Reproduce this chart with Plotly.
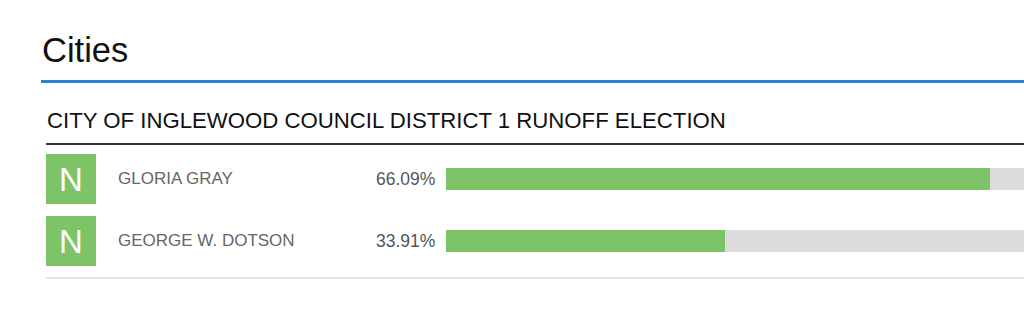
import plotly.graph_objects as go

W, H = 1024, 313

section_title = "Cities"
contest_title = "CITY OF INGLEWOOD COUNCIL DISTRICT 1 RUNOFF ELECTION"
candidates = ["GLORIA GRAY", "GEORGE W. DOTSON"]
percents = [66.09, 33.91]
badges = ["N", "N"]
full_scale = [100, 100]

GREEN = "#7dc468"
GRAY_BAR = "#dcdcdc"
FONT = "Liberation Sans, Arial, Helvetica, sans-serif"


def py(p):
    return 1 - p / H


def pxx(p):
    return p / W


fig = go.Figure()
fig.add_trace(go.Bar(
    y=candidates, x=full_scale, orientation="h",
    marker=dict(color=GRAY_BAR, line=dict(width=0)),
    width=0.355, hoverinfo="skip", showlegend=False,
))
fig.add_trace(go.Bar(
    y=candidates, x=percents, orientation="h",
    marker=dict(color=GREEN, line=dict(width=0)),
    width=0.355, hoverinfo="skip", showlegend=False,
))

annotations = []
annotations.append(dict(
    text=section_title, xref="paper", yref="paper", x=pxx(40), y=py(50),
    xanchor="left", yanchor="middle", showarrow=False,
    font=dict(family=FONT, size=34.5, color="#111111"),
))
annotations.append(dict(
    text=contest_title, xref="paper", yref="paper", x=pxx(45), y=py(120),
    xanchor="left", yanchor="middle", showarrow=False,
    font=dict(family=FONT, size=22.2, color="#111111"),
))
for name, pct, badge in zip(candidates, percents, badges):
    annotations.append(dict(
        text=badge, xref="paper", yref="y", x=pxx(46), y=name,
        xanchor="left", yanchor="middle", showarrow=False,
        width=50, height=50, bgcolor=GREEN, borderpad=0, borderwidth=0,
        font=dict(family=FONT, size=33, color="white"),
    ))
    annotations.append(dict(
        text=name, xref="paper", yref="y", x=pxx(116), y=name,
        xanchor="left", yanchor="middle", showarrow=False,
        font=dict(family=FONT, size=17, color="#666666"),
    ))
    annotations.append(dict(
        text=f"{pct:.2f}%", xref="paper", yref="y", x=pxx(437), y=name,
        xanchor="right", yanchor="middle", showarrow=False,
        font=dict(family=FONT, size=17.5, color="#555555"),
    ))

shapes = [
    dict(type="line", xref="paper", yref="paper", x0=pxx(41), x1=1,
         y0=py(81.5), y1=py(81.5), line=dict(color="#3a7cc4", width=3)),
    dict(type="line", xref="paper", yref="paper", x0=pxx(46), x1=1,
         y0=py(144), y1=py(144), line=dict(color="#333333", width=2)),
    dict(type="line", xref="paper", yref="paper", x0=pxx(46), x1=1,
         y0=py(278), y1=py(278), line=dict(color="#cccccc", width=1)),
]

fig.update_layout(
    width=W, height=H, margin=dict(l=0, r=0, t=0, b=0),
    paper_bgcolor="white", plot_bgcolor="white",
    barmode="overlay", bargap=0,
    xaxis=dict(domain=[pxx(446), 1], range=[0, 578 / 822.5 * 100],
               visible=False, fixedrange=True),
    yaxis=dict(domain=[py(272), py(148)], range=[1.5, -0.5],
               type="category", visible=False, fixedrange=True),
    annotations=annotations, shapes=shapes,
    font=dict(family=FONT),
)

fig.write_html("out.html", config={"displayModeBar": False})
